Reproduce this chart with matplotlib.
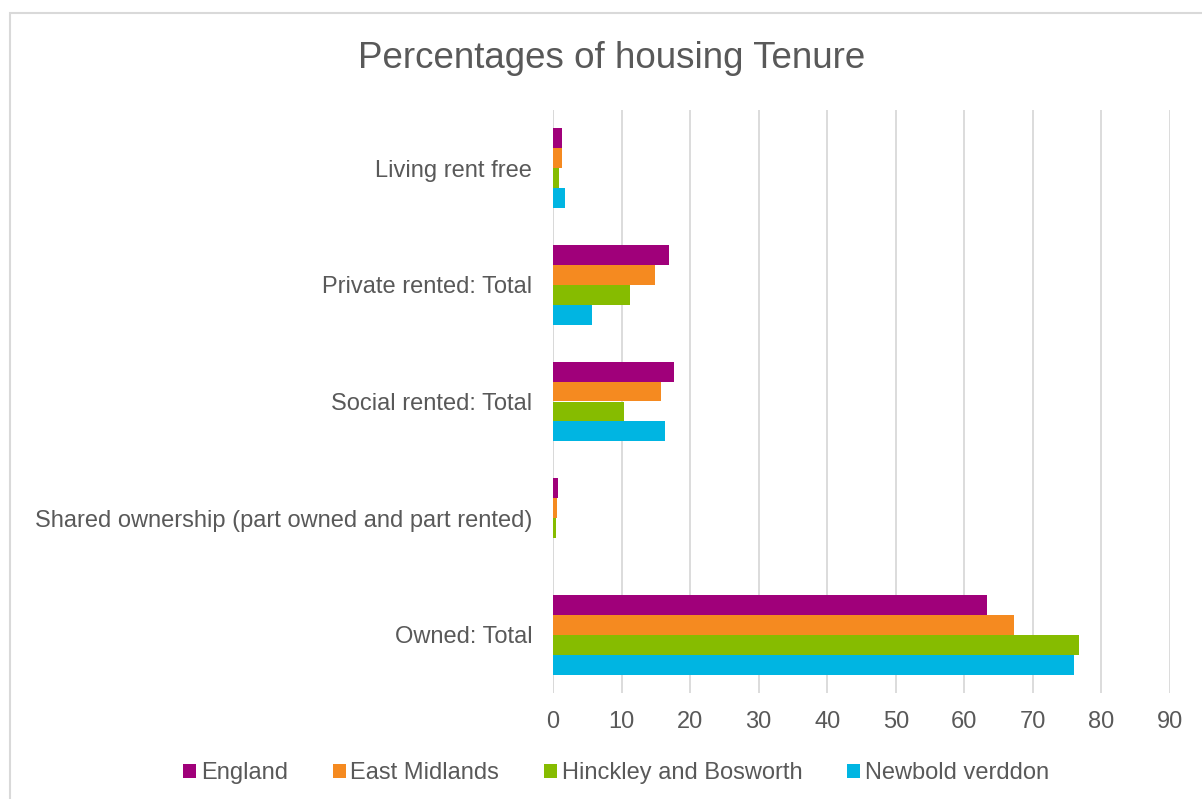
import matplotlib
matplotlib.use("Agg")
import matplotlib.pyplot as plt
import numpy as np
from matplotlib.patches import Rectangle

plt.rcParams['font.family'] = ['Liberation Sans', 'DejaVu Sans']

# bottom-to-top order on the chart
categories = ["Owned: Total",
              "Shared ownership (part owned and part rented)",
              "Social rented: Total",
              "Private rented: Total",
              "Living rent free"]
series = ["England", "East Midlands", "Hinckley and Bosworth", "Newbold verddon"]
england = [63.3, 0.7, 17.7, 16.9, 1.3]
east_midlands = [67.2, 0.6, 15.8, 14.9, 1.3]
hinckley = [76.7, 0.5, 10.3, 11.3, 0.9]
newbold = [76.0, 0.0, 16.3, 5.7, 1.8]
colors = ["#A0007A", "#F58A20", "#86BC00", "#00B5E2"]
xticks = [0, 10, 20, 30, 40, 50, 60, 70, 80, 90]

text_color = "#595959"
grid_color = "#D9D9D9"

fig = plt.figure(figsize=(12.02, 7.99), dpi=100)
ax = fig.add_axes([553 / 1202, 1 - 693 / 799, (1170 - 553) / 1202, (693 - 110) / 799])

y = np.arange(len(categories))
h = 0.1715
offsets = [1.5 * h, 0.5 * h, -0.5 * h, -1.5 * h]
for vals, off, col, name in zip([england, east_midlands, hinckley, newbold],
                                offsets, colors, series):
    ax.barh(y + off, vals, height=h, color=col, label=name, zorder=3)

ax.set_xlim(0, 90)
ax.set_ylim(-0.5, len(categories) - 0.5)
ax.set_xticks(xticks)
ax.set_yticks(y)
ax.set_yticklabels(categories)
ax.tick_params(axis='both', length=0, labelsize=17, labelcolor=text_color)
ax.tick_params(axis='x', pad=13)
ax.tick_params(axis='y', pad=15)
ax.grid(axis='x', color=grid_color, linewidth=1.3, zorder=0)
for s in ax.spines.values():
    s.set_visible(False)
ax.axvline(0, color=grid_color, linewidth=1.3, zorder=2)

fig.text(612 / 1202, 1 - 58 / 799, "Percentages of housing Tenure",
         ha='center', va='center', fontsize=26.5, color=text_color)

fig.legend(loc='center', bbox_to_anchor=(616 / 1202, 1 - 773 / 799), ncol=4,
           frameon=False, fontsize=17, labelcolor=text_color,
           handlelength=0.55, handleheight=0.55, handletextpad=0.2,
           columnspacing=1.9)

# outer chart border (clipped at right and bottom)
fig.patches.append(Rectangle((10 / 1202, -0.1), 1.2, 1 - 13 / 799 + 0.1,
                             transform=fig.transFigure, fill=False,
                             edgecolor=grid_color, linewidth=1.5))

fig.savefig("out.png", dpi=100)
